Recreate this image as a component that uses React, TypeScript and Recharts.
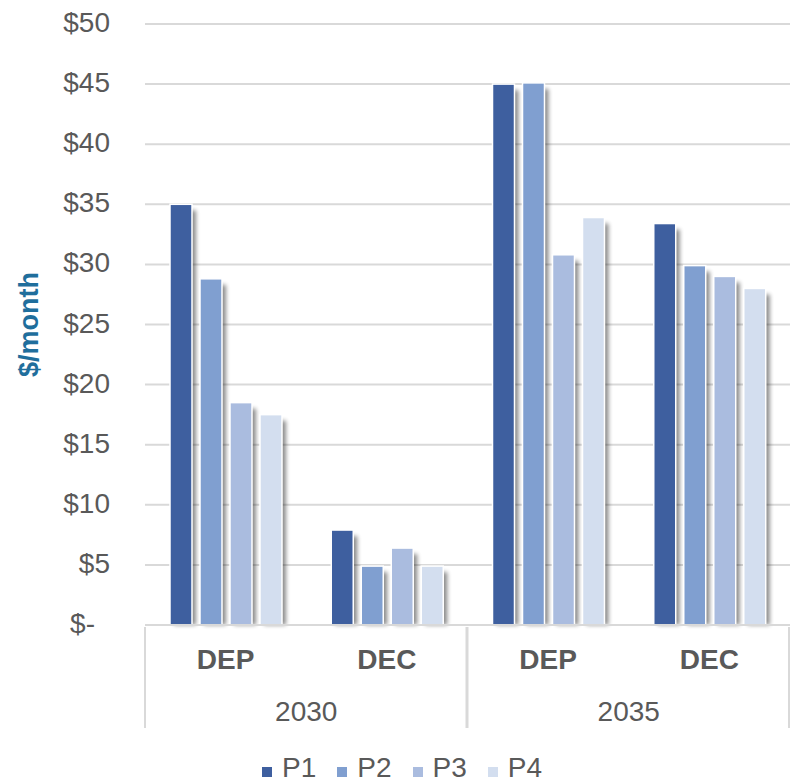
import React from 'react';
import { BarChart, Bar, XAxis, YAxis, CartesianGrid, Legend } from 'recharts';

const groups = ['DEP', 'DEC', 'DEP', 'DEC'];
const years = ['2030', '2030', '2035', '2035'];
const p1 = [35, 7.9, 45, 33.4];
const p2 = [28.8, 4.9, 45.1, 29.9];
const p3 = [18.5, 6.4, 30.8, 29.0];
const p4 = [17.5, 4.9, 33.9, 28.0];
const yTicks = [0, 5, 10, 15, 20, 25, 30, 35, 40, 45, 50];
const seriesNames = ['P1', 'P2', 'P3', 'P4'];
const seriesColors = ['#3E5F9F', '#809FD0', '#AABCDF', '#D3DEEF'];

const data = groups.map((g, i) => ({
  group: g,
  year: years[i],
  P1: p1[i],
  P2: p2[i],
  P3: p3[i],
  P4: p4[i],
}));

const FONT = '"Liberation Sans", Arial, sans-serif';
const TEXT = '#595959';
const GRID = '#D9D9D9';

const ShadowBar = (props: any) => {
  const { x, y, width, height, fill } = props;
  if (!height || height <= 0) return null;
  return (
    <g>
      <rect x={x + 4} y={y + 6} width={width} height={Math.max(0, height - 6)} fill="#000" opacity={0.45} filter="url(#barShadow)" />
      <rect x={x} y={y} width={width} height={height} fill={fill} stroke="#fff" strokeWidth={1.5} />
    </g>
  );
};

const XTick = (props: any) => {
  const { x, y, payload } = props;
  const i = payload.index;
  const off = payload.offset || 0;
  const first = i === 0 || years[i] !== years[i - 1];
  const last = i === years.length - 1 || years[i] !== years[i + 1];
  return (
    <g>
      <text x={x} y={y + 44} textAnchor="middle" fill={TEXT} fontSize={28} fontWeight="bold" fontFamily={FONT}>
        {groups[i]}
      </text>
      {first && (
        <line x1={x - off} x2={x - off} y1={y + 2} y2={y + 103} stroke={GRID} strokeWidth={2} />
      )}
      {first && !last && (
        <text x={x + off} y={y + 96} textAnchor="middle" fill={TEXT} fontSize={28} fontFamily={FONT}>
          {years[i]}
        </text>
      )}
      {last && (
        <line x1={x + off - 1} x2={x + off - 1} y1={y + 2} y2={y + 103} stroke={GRID} strokeWidth={2} />
      )}
    </g>
  );
};

const YTick = (props: any) => {
  const { x, y, payload } = props;
  const v = payload.value;
  const label = v === 0 ? '$-' : `$${v}`;
  return (
    <text x={v === 0 ? x - 15 : x} y={y + 8} textAnchor="end" fill={TEXT} fontSize={28} fontFamily={FONT}>
      {label}
    </text>
  );
};

const YLabel = (props: any) => {
  const vb = props.viewBox || { x: 0, y: 0, width: 0, height: 0 };
  const cx = vb.x + 38;
  const cy = vb.y + vb.height / 2;
  return (
    <text x={cx} y={cy} transform={`rotate(-90 ${cx} ${cy})`} textAnchor="middle" fill="#1F6E9C" fontSize={27} fontWeight="bold" fontFamily={FONT}>
      $/month
    </text>
  );
};

const LegendContent = () => (
  <div style={{ height: 40, width: 790, display: 'flex', justifyContent: 'center', alignItems: 'flex-start', paddingLeft: 14, boxSizing: 'border-box' }}>
    {seriesNames.map((n, i) => (
      <div key={n} style={{ display: 'flex', alignItems: 'center', marginRight: i < seriesNames.length - 1 ? 21 : 0, paddingTop: 12 }}>
        <div style={{ width: 10, height: 10, background: seriesColors[i], marginRight: 10, marginTop: 8 }} />
        <span style={{ fontFamily: FONT, fontSize: 28, color: TEXT, lineHeight: '28px' }}>{n}</span>
      </div>
    ))}
  </div>
);

export default function App() {
  return (
    <div style={{ position: 'absolute', left: 0, top: 0, width: 790, height: 782, background: '#fff' }}>
      <svg width={0} height={0} style={{ position: 'absolute' }}>
        <defs>
          <filter id="barShadow" x="-50%" y="-10%" width="200%" height="120%">
            <feGaussianBlur stdDeviation={2} />
          </filter>
        </defs>
      </svg>
      <BarChart
        width={790}
        height={782}
        data={data}
        margin={{ top: 24, right: 0, left: 0, bottom: 0 }}
        barGap={8}
        barCategoryGap={25}
        style={{ fontFamily: FONT }}
      >
        <CartesianGrid vertical={false} stroke={GRID} strokeWidth={2} />
        <XAxis
          dataKey="group"
          height={117}
          tickSize={0}
          tickMargin={0}
          axisLine={{ stroke: GRID, strokeWidth: 2 }}
          tickLine={false}
          tick={<XTick />}
          interval={0}
        />
        <YAxis
          width={145}
          domain={[0, 50]}
          ticks={yTicks}
          tickSize={0}
          tickMargin={35}
          axisLine={false}
          tickLine={false}
          tick={<YTick />}
          label={<YLabel />}
        />
        <Legend verticalAlign="bottom" content={<LegendContent />} wrapperStyle={{ left: 0, width: 790 }} />
        {seriesNames.map((n, i) => (
          <Bar key={n} dataKey={n} fill={seriesColors[i]} isAnimationActive={false} shape={<ShadowBar />} />
        ))}
      </BarChart>
    </div>
  );
}
